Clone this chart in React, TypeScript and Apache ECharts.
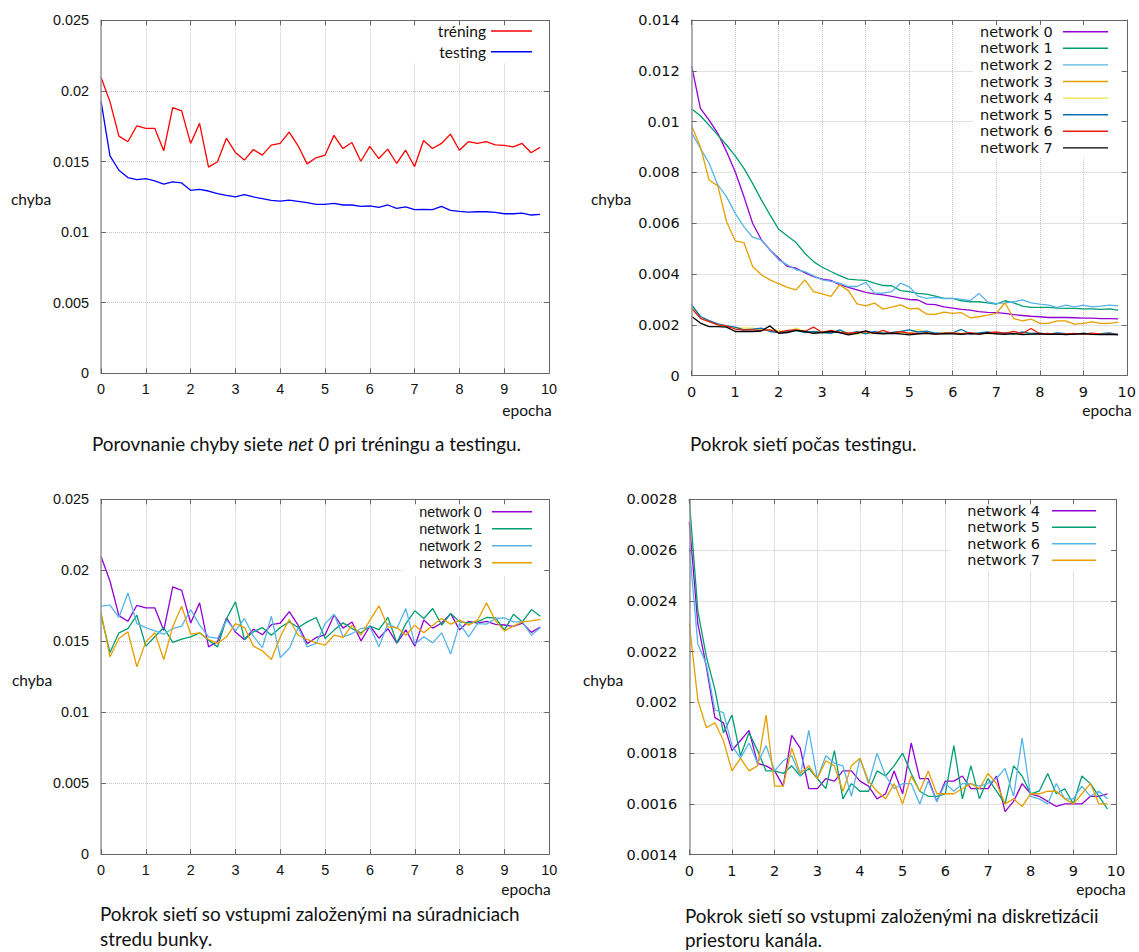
import React, { useEffect, useRef } from "react";
import * as echarts from "echarts";

// ---------- DATA ----------
const epochs = [0, 0.2, 0.4, 0.6, 0.8, 1, 1.2, 1.4, 1.6, 1.8, 2, 2.2, 2.4, 2.6, 2.8, 3, 3.2, 3.4, 3.6, 3.8, 4, 4.2, 4.4, 4.6, 4.8, 5, 5.2, 5.4, 5.6, 5.8, 6, 6.2, 6.4, 6.6, 6.8, 7, 7.2, 7.4, 7.6, 7.8, 8, 8.2, 8.4, 8.6, 8.8, 9, 9.2, 9.4, 9.6, 9.8];

// Panel 1: net 0, training vs testing
const trening = [0.02097, 0.01924, 0.0168, 0.0164, 0.01753, 0.01735, 0.01735, 0.01576, 0.01882, 0.01858,
  0.01628, 0.0177, 0.0146, 0.01498, 0.01664, 0.01564, 0.0151, 0.01585, 0.01545, 0.01616,
  0.01628, 0.01708, 0.01611, 0.01483, 0.01526, 0.01545, 0.01685, 0.01592, 0.01635, 0.01502,
  0.01607, 0.01521, 0.01588, 0.01486, 0.0158, 0.01464, 0.01649, 0.01592, 0.01628, 0.01694,
  0.0158, 0.0164, 0.01628, 0.0164, 0.01618, 0.01614, 0.01604, 0.01628, 0.01562, 0.016];
const testing = [0.01929, 0.0154, 0.01438, 0.01386, 0.01372, 0.01379, 0.01362, 0.01339, 0.01355, 0.01348,
  0.01296, 0.01303, 0.01291, 0.01272, 0.0126, 0.01249, 0.01265, 0.01249, 0.01237, 0.01225,
  0.0122, 0.01227, 0.01218, 0.01208, 0.01197, 0.01197, 0.01204, 0.01192, 0.01192, 0.01182,
  0.01185, 0.01175, 0.01192, 0.01168, 0.01178, 0.01159, 0.01161, 0.01159, 0.01182, 0.01154,
  0.01147, 0.01142, 0.01144, 0.01144, 0.0114, 0.0113, 0.0113, 0.01135, 0.01121, 0.01125];

// Panel 2: testing error of networks 0-7
const test0 = [0.01218, 0.01052, 0.01006, 0.00954, 0.00882, 0.00803, 0.00705, 0.006, 0.00535, 0.00495,
  0.00462, 0.0043, 0.00423, 0.00406, 0.0039, 0.0038, 0.00375, 0.00358, 0.00348, 0.00338,
  0.00328, 0.00322, 0.00318, 0.00312, 0.00305, 0.003, 0.00298, 0.00282, 0.0028, 0.00271,
  0.00266, 0.00261, 0.00258, 0.00252, 0.00249, 0.00248, 0.00245, 0.0024, 0.00237, 0.00234,
  0.00232, 0.00229, 0.00229, 0.00229, 0.00228, 0.00227, 0.00227, 0.00225, 0.00225, 0.00224];
const test1 = [0.0105, 0.01023, 0.00986, 0.00947, 0.00908, 0.00865, 0.00816, 0.00757, 0.00692, 0.00633,
  0.00576, 0.0055, 0.00524, 0.00482, 0.00449, 0.00427, 0.0041, 0.00394, 0.0038, 0.00377,
  0.00375, 0.00364, 0.00355, 0.00354, 0.00335, 0.00331, 0.00324, 0.00321, 0.00313, 0.00304,
  0.00304, 0.00295, 0.00291, 0.00291, 0.00287, 0.00282, 0.00295, 0.00287, 0.00274, 0.00269,
  0.00269, 0.00269, 0.00266, 0.00265, 0.00265, 0.00263, 0.00263, 0.00261, 0.00263, 0.00258];
const test2 = [0.00956, 0.00895, 0.00836, 0.00751, 0.00705, 0.00639, 0.00587, 0.00545, 0.00535, 0.00495,
  0.00456, 0.00436, 0.00417, 0.0041, 0.00393, 0.00377, 0.00371, 0.00364, 0.00351, 0.00351,
  0.00367, 0.00325, 0.00325, 0.00331, 0.00364, 0.0035, 0.00313, 0.00304, 0.00308, 0.00303,
  0.00304, 0.003, 0.00295, 0.00324, 0.00291, 0.00284, 0.00287, 0.00291, 0.00298, 0.00287,
  0.00282, 0.00278, 0.00269, 0.00278, 0.00271, 0.00278, 0.00271, 0.00274, 0.00278, 0.00275];
const test3 = [0.00983, 0.00901, 0.0077, 0.00747, 0.00607, 0.00531, 0.00524, 0.0043, 0.00397, 0.00377,
  0.00362, 0.00348, 0.00338, 0.00377, 0.00331, 0.00322, 0.00312, 0.00358, 0.00335, 0.00283,
  0.00275, 0.00286, 0.00262, 0.0027, 0.00279, 0.00263, 0.00265, 0.00242, 0.00241, 0.0025,
  0.00245, 0.00248, 0.00228, 0.00232, 0.00238, 0.00245, 0.00287, 0.00225, 0.00216, 0.00223,
  0.00206, 0.00206, 0.00216, 0.00216, 0.00203, 0.00206, 0.00212, 0.00206, 0.00206, 0.00211];
const test4 = [0.00272, 0.00226, 0.00213, 0.002, 0.00193, 0.00187, 0.00187, 0.00187, 0.00183, 0.0018,
  0.00178, 0.00174, 0.00187, 0.00174, 0.0017, 0.00174, 0.0017, 0.00174, 0.0017, 0.00165,
  0.00167, 0.00167, 0.0017, 0.00167, 0.0017, 0.00167, 0.00182, 0.00168, 0.00165, 0.0017,
  0.00167, 0.00166, 0.00168, 0.00165, 0.00167, 0.00166, 0.00168, 0.00164, 0.00165, 0.00167,
  0.00164, 0.00165, 0.00166, 0.00164, 0.00165, 0.00163, 0.00164, 0.00165, 0.00163, 0.00163];
const test5 = [0.00279, 0.00233, 0.00217, 0.00204, 0.00196, 0.00191, 0.0018, 0.00183, 0.00187, 0.00174,
  0.0017, 0.00174, 0.00178, 0.0017, 0.00174, 0.0017, 0.00167, 0.0018, 0.00165, 0.00174,
  0.00165, 0.00174, 0.00167, 0.0017, 0.00174, 0.0018, 0.00172, 0.00175, 0.00168, 0.00166,
  0.00169, 0.00182, 0.00165, 0.00168, 0.00172, 0.00166, 0.00168, 0.00165, 0.00172, 0.00166,
  0.00167, 0.00164, 0.00168, 0.00166, 0.00163, 0.00167, 0.00164, 0.00166, 0.00168, 0.00163];
const test6 = [0.00265, 0.00226, 0.00213, 0.002, 0.00196, 0.00183, 0.0018, 0.0018, 0.00178, 0.0018,
  0.0017, 0.00178, 0.0018, 0.00174, 0.00191, 0.0017, 0.00178, 0.0017, 0.00167, 0.0017,
  0.00174, 0.00167, 0.00178, 0.00167, 0.00174, 0.00167, 0.00166, 0.00168, 0.00164, 0.00167,
  0.00168, 0.00166, 0.00169, 0.00165, 0.00168, 0.00172, 0.00167, 0.00174, 0.00166, 0.00186,
  0.00165, 0.00166, 0.00164, 0.00165, 0.00166, 0.00164, 0.00167, 0.00165, 0.00164, 0.00163];
const test7 = [0.00233, 0.00207, 0.00193, 0.00193, 0.00191, 0.00174, 0.00174, 0.00174, 0.00176, 0.00196,
  0.00167, 0.0017, 0.00178, 0.00174, 0.00167, 0.0017, 0.00174, 0.0017, 0.00161, 0.00167,
  0.00176, 0.00167, 0.00165, 0.00167, 0.00165, 0.00161, 0.00165, 0.00167, 0.00164, 0.00166,
  0.00165, 0.00163, 0.00166, 0.00164, 0.00168, 0.00165, 0.00163, 0.00166, 0.00162, 0.00164,
  0.00165, 0.00163, 0.00164, 0.00162, 0.00164, 0.00166, 0.00163, 0.00162, 0.00163, 0.00161];

// Panel 3: training error, networks 0-3 (network 0 = the same run as panel 1 training)
const train0 = trening;
const train1 = [0.01683, 0.0142, 0.01559, 0.01589, 0.01683, 0.01465, 0.01531, 0.01596, 0.01491, 0.01514,
  0.01531, 0.01559, 0.01507, 0.0146, 0.0166, 0.01777, 0.01512, 0.01566, 0.01596, 0.01542,
  0.01596, 0.01636, 0.01596, 0.01636, 0.01667, 0.01519, 0.01578, 0.01629, 0.01589, 0.01559,
  0.01606, 0.01582, 0.01667, 0.01488, 0.01624, 0.01714, 0.0166, 0.0173, 0.01613, 0.01695,
  0.01636, 0.01629, 0.01636, 0.01667, 0.01664, 0.01578, 0.0169, 0.01636, 0.01723, 0.01676];
const train2 = [0.01747, 0.01754, 0.01667, 0.0184, 0.01624, 0.01596, 0.01573, 0.01549, 0.01589, 0.01606,
  0.01723, 0.01613, 0.01531, 0.01519, 0.01648, 0.01573, 0.0166, 0.01535, 0.01455, 0.01676,
  0.01385, 0.01448, 0.01596, 0.0146, 0.01484, 0.01624, 0.0169, 0.01531, 0.01554, 0.01589,
  0.01601, 0.0146, 0.01624, 0.01589, 0.0173, 0.01479, 0.01531, 0.01488, 0.01559, 0.01409,
  0.01624, 0.01531, 0.01624, 0.0162, 0.0166, 0.01664, 0.01636, 0.01636, 0.01542, 0.01596];
const train3 = [0.01707, 0.0139, 0.01519, 0.01566, 0.0132, 0.01495, 0.01559, 0.01371, 0.01601, 0.01747,
  0.01549, 0.01559, 0.01512, 0.01484, 0.01531, 0.01624, 0.01596, 0.01465, 0.01432, 0.01371,
  0.01531, 0.01653, 0.01542, 0.01512, 0.01488, 0.01472, 0.01542, 0.01526, 0.01613, 0.01542,
  0.01648, 0.01749, 0.01601, 0.01596, 0.01542, 0.01613, 0.01559, 0.01613, 0.0166, 0.0162,
  0.01648, 0.01613, 0.01648, 0.0177, 0.01643, 0.01573, 0.01606, 0.01636, 0.01643, 0.01653];

// Panel 4: training error, networks 4-7
const train4 = [0.00271, 0.00231, 0.00214, 0.00194, 0.00192, 0.00181, 0.00185, 0.00189, 0.00176, 0.00175,
  0.00173, 0.00167, 0.00187, 0.00182, 0.00166, 0.00166, 0.0017, 0.00169, 0.00173, 0.00173,
  0.00169, 0.00167, 0.00162, 0.00164, 0.00173, 0.00164, 0.00184, 0.0017, 0.0017, 0.00161,
  0.00169, 0.00169, 0.00171, 0.00166, 0.00166, 0.00166, 0.00171, 0.00157, 0.00161, 0.00168,
  0.00164, 0.00163, 0.00161, 0.00159, 0.0016, 0.0016, 0.0016, 0.00163, 0.00163, 0.00164];
const train5 = [0.0028, 0.00236, 0.00218, 0.00205, 0.00188, 0.00195, 0.00179, 0.00188, 0.00181, 0.00173,
  0.00173, 0.00172, 0.00175, 0.00171, 0.00174, 0.0017, 0.00166, 0.00181, 0.00162, 0.00168,
  0.00165, 0.00165, 0.00173, 0.00171, 0.00175, 0.0018, 0.00172, 0.00165, 0.00163, 0.00163,
  0.00164, 0.00183, 0.00162, 0.00175, 0.00162, 0.0017, 0.00165, 0.0016, 0.00175, 0.00171,
  0.00164, 0.00165, 0.00172, 0.00164, 0.00166, 0.0016, 0.00171, 0.00168, 0.00163, 0.00158];
const train6 = [0.00261, 0.00223, 0.00215, 0.00197, 0.00196, 0.00183, 0.00178, 0.00184, 0.00176, 0.00183,
  0.00173, 0.00177, 0.00179, 0.00171, 0.00189, 0.0017, 0.00179, 0.00176, 0.00175, 0.00163,
  0.00178, 0.00168, 0.0018, 0.00171, 0.00166, 0.00168, 0.00168, 0.0016, 0.00169, 0.00161,
  0.00168, 0.00165, 0.00168, 0.00168, 0.00167, 0.00168, 0.0017, 0.00174, 0.00163, 0.00186,
  0.00163, 0.00162, 0.0016, 0.00168, 0.00162, 0.00162, 0.00167, 0.00163, 0.00165, 0.00162];
const train7 = [0.00231, 0.00201, 0.0019, 0.00192, 0.00185, 0.00173, 0.00178, 0.00173, 0.00175, 0.00195,
  0.00167, 0.00167, 0.00182, 0.00172, 0.00175, 0.0017, 0.00177, 0.00175, 0.00165, 0.00175,
  0.00178, 0.00169, 0.00165, 0.00162, 0.00168, 0.0016, 0.00171, 0.00165, 0.00173, 0.00164,
  0.00164, 0.00164, 0.00166, 0.00168, 0.00166, 0.00172, 0.00168, 0.0016, 0.00162, 0.00159,
  0.00164, 0.00164, 0.00165, 0.00165, 0.00162, 0.0016, 0.00164, 0.00168, 0.0016, 0.0016];

const yLabel = "chyba";
const xLabel = "epocha";

// ---------- STYLE / LAYOUT ----------
const PURPLE = "#9400d3", GREEN = "#009e73", SKY = "#56b4e9", ORANGE = "#e69f00";
const YELLOW = "#f0e442", BLUE5 = "#0072b2", RED6 = "#e51e10", BLACK = "#000000";
const CAL = "Lato";

type S = { name: string; data: number[]; color: string };

const panels = [
  {
    left: 101, top: 20.3, width: 448, height: 353, ymin: 0, ymax: 0.025, yint: 0.005,
    font: "Liberation Sans", fs: 14.4,
    series: [
      { name: "tréning", data: trening, color: "#ff0000" },
      { name: "testing", data: testing, color: "#0000ff" },
    ] as S[],
    legend: { right: 486, y0: 31, dy: 20.7, x1: 491, x2: 532, font: CAL, fs: 15.5, box: [410, 21, 138, 42] },
    chyba: [31, 199], epocha: [527, 410],
  },
  {
    left: 691.7, top: 20, width: 436.6, height: 355.7, ymin: 0, ymax: 0.014, yint: 0.002,
    font: "DejaVu Sans", fs: 14.5,
    series: [
      { name: "network 0", data: test0, color: PURPLE },
      { name: "network 1", data: test1, color: GREEN },
      { name: "network 2", data: test2, color: SKY },
      { name: "network 3", data: test3, color: ORANGE },
      { name: "network 4", data: test4, color: YELLOW },
      { name: "network 5", data: test5, color: BLUE5 },
      { name: "network 6", data: test6, color: RED6 },
      { name: "network 7", data: test7, color: BLACK },
    ] as S[],
    legend: { right: 1052.7, y0: 31.7, dy: 16.6, x1: 1063, x2: 1108, font: "DejaVu Sans", fs: 14.5, box: [973, 21, 154.5, 136] },
    chyba: [611, 199], epocha: [1107, 410],
  },
  {
    left: 101, top: 499.3, width: 448.3, height: 354.7, ymin: 0, ymax: 0.025, yint: 0.005,
    font: "Liberation Sans", fs: 14.4,
    series: [
      { name: "network 0", data: train0, color: PURPLE },
      { name: "network 1", data: train1, color: GREEN },
      { name: "network 2", data: train2, color: SKY },
      { name: "network 3", data: train3, color: ORANGE },
    ] as S[],
    legend: { right: 481.7, y0: 511.7, dy: 17, x1: 492, x2: 532, font: "Liberation Sans", fs: 14.4, box: [403, 500.3, 145.3, 76] },
    chyba: [32, 680], epocha: [526, 889],
  },
  {
    left: 689.3, top: 499.3, width: 426.7, height: 355.4, ymin: 0.0014, ymax: 0.0028, yint: 0.0002,
    font: "DejaVu Sans", fs: 14.5,
    series: [
      { name: "network 4", data: train4, color: PURPLE },
      { name: "network 5", data: train5, color: GREEN },
      { name: "network 6", data: train6, color: SKY },
      { name: "network 7", data: train7, color: ORANGE },
    ] as S[],
    legend: { right: 1040, y0: 510.7, dy: 16.5, x1: 1052, x2: 1096, font: "DejaVu Sans", fs: 14.5, box: [950, 500.3, 165, 70] },
    chyba: [603, 680], epocha: [1101, 889],
  },
];

const captions = [
  { x: 92, y: 443, text: "Porovnanie chyby siete {it|net 0} pri tréningu a testingu." },
  { x: 690, y: 443, text: "Pokrok sietí počas testingu." },
  { x: 100, y: 913, text: "Pokrok sietí so vstupmi založenými na súradniciach" },
  { x: 100, y: 938, text: "stredu bunky." },
  { x: 685, y: 915, text: "Pokrok sietí so vstupmi založenými na diskretizácii" },
  { x: 685, y: 939, text: "priestoru kanála." },
];
const CAP_FS = 18.9;

function txt(x: number, y: number, text: string, family: string, size: number, align: string, extra: any = {}) {
  return {
    type: "text", x, y, z: 10, silent: true,
    style: {
      text, fontFamily: family, fontSize: size, fill: "#111",
      align, textAlign: align, verticalAlign: "middle", textVerticalAlign: "middle", ...extra,
    },
  };
}

function buildOption() {
  const grid: any[] = [], xAxis: any[] = [], yAxis: any[] = [], series: any[] = [], graphic: any[] = [];
  const border = { color: "#666", width: 1 };
  const leftBorder = { color: "#9a9a9a", width: 1.5 };
  const fmt = (v: number) => String(parseFloat(v.toFixed(6)));
  panels.forEach((p, g) => {
    grid.push({ left: p.left, top: p.top, width: p.width, height: p.height, show: false });
    const lab = { fontFamily: p.font, fontSize: p.fs, color: "#111" };
    const xs = { gridIndex: g, type: "value", min: 0, max: 10, interval: 1 };
    const ys = { gridIndex: g, type: "value", min: p.ymin, max: p.ymax, interval: p.yint };
    const off = { axisLine: { show: false }, axisTick: { show: false }, axisLabel: { show: false } };
    xAxis.push(
      { ...xs, position: "bottom", z: 0, ...off, splitLine: { show: true, lineStyle: { color: "#c6c6c6", type: "dotted", width: 1 } } },
      { ...xs, position: "bottom", z: 5, splitLine: { show: false },
        axisLine: { show: true, onZero: false, lineStyle: border },
        axisTick: { show: true, inside: true, length: 5, lineStyle: border },
        axisLabel: { show: true, margin: 9, ...lab } },
      { ...xs, position: "top", z: 5, splitLine: { show: false }, axisLabel: { show: false },
        axisLine: { show: true, onZero: false, lineStyle: border },
        axisTick: { show: true, inside: true, length: 5, lineStyle: border } },
    );
    yAxis.push(
      { ...ys, position: "left", z: 0, ...off, splitLine: { show: true, lineStyle: { color: "#c6c6c6", type: "dotted", width: 1 } } },
      { ...ys, position: "left", z: 5, splitLine: { show: false },
        axisLine: { show: true, onZero: false, lineStyle: leftBorder },
        axisTick: { show: true, inside: true, length: 5, lineStyle: border },
        axisLabel: { show: true, margin: 12, formatter: fmt, ...lab } },
      { ...ys, position: "right", z: 5, splitLine: { show: false }, axisLabel: { show: false },
        axisLine: { show: true, onZero: false, lineStyle: border },
        axisTick: { show: true, inside: true, length: 5, lineStyle: border } },
    );
    p.series.forEach((s) => {
      series.push({
        type: "line", name: s.name, xAxisIndex: 3 * g, yAxisIndex: 3 * g,
        data: epochs.map((e, i) => [e, s.data[i]]),
        showSymbol: false, symbol: "none", z: 3,
        lineStyle: { color: s.color, width: 1.3 }, itemStyle: { color: s.color },
      });
    });
    // key box
    const L = p.legend;
    graphic.push({ type: "rect", z: 1, silent: true, shape: { x: L.box[0], y: L.box[1], width: L.box[2], height: L.box[3] }, style: { fill: "#ffffff" } });
    p.series.forEach((s, k) => {
      const y = L.y0 + k * L.dy;
      graphic.push(txt(L.right, y, s.name, L.font, L.fs, "right"));
      graphic.push({ type: "line", z: 10, silent: true, shape: { x1: L.x1, y1: y, x2: L.x2, y2: y }, style: { stroke: s.color, lineWidth: 1.4 } });
    });
    graphic.push(txt(p.chyba[0], p.chyba[1], yLabel, CAL, 15.5, "center"));
    graphic.push(txt(p.epocha[0], p.epocha[1], xLabel, CAL, 15.5, "center"));
  });
  captions.forEach((c) => {
    graphic.push(txt(c.x, c.y, c.text, CAL, CAP_FS, "left", { rich: { it: { fontStyle: "italic", fontFamily: CAL, fontSize: CAP_FS, fill: "#111" } } }));
  });
  return {
    animation: false,
    backgroundColor: "#ffffff",
    grid, xAxis, yAxis, series, graphic,
  };
}

export default function App() {
  const ref = useRef<HTMLDivElement>(null);
  useEffect(() => {
    if (!ref.current) return;
    const chart = echarts.init(ref.current, undefined, { renderer: "svg" });
    chart.setOption(buildOption() as any);
    return () => chart.dispose();
  }, []);
  return <div ref={ref} style={{ position: "absolute", left: 0, top: 0, width: 1139, height: 952 }} />;
}
